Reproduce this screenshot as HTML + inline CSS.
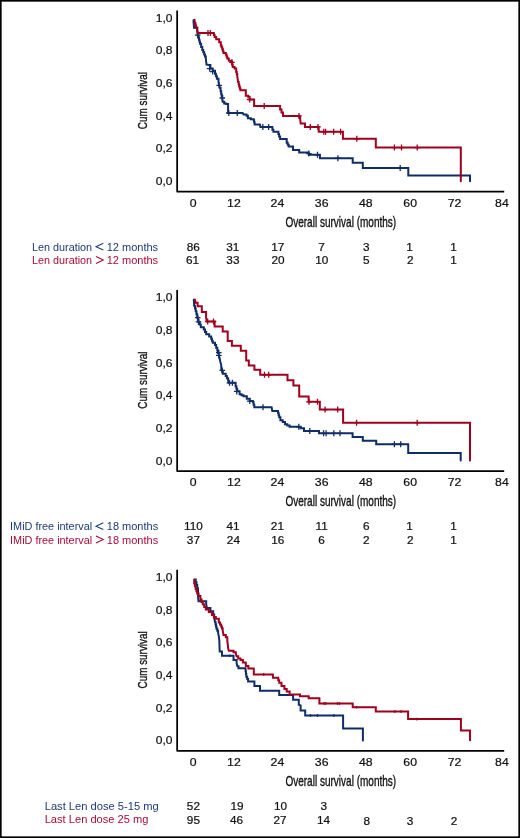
<!DOCTYPE html><html><head><meta charset="utf-8"><style>html,body{margin:0;padding:0;background:#fff;width:520px;height:838px;overflow:hidden}svg{display:block;will-change:transform}text{font-family:"Liberation Sans",sans-serif}.n{stroke:#111;stroke-width:0.22px}</style></head><body>
<svg width="520" height="838" viewBox="0 0 520 838">
<rect x="0" y="0" width="520" height="838" fill="#fff"/>
<g transform="translate(0,0)">
<path d="M177.15,10.5 V191.55 H504.2" fill="none" stroke="#000" stroke-width="1.75" stroke-linejoin="round" stroke-linecap="butt"/>
<text transform="translate(172.5,21.80) scale(1.04,1)" font-size="11.6" text-anchor="end" fill="#111" class="n">1,0</text>
<text transform="translate(172.5,54.45) scale(1.04,1)" font-size="11.6" text-anchor="end" fill="#111" class="n">0,8</text>
<text transform="translate(172.5,87.10) scale(1.04,1)" font-size="11.6" text-anchor="end" fill="#111" class="n">0,6</text>
<text transform="translate(172.5,119.75) scale(1.04,1)" font-size="11.6" text-anchor="end" fill="#111" class="n">0,4</text>
<text transform="translate(172.5,152.40) scale(1.04,1)" font-size="11.6" text-anchor="end" fill="#111" class="n">0,2</text>
<text transform="translate(172.5,185.05) scale(1.04,1)" font-size="11.6" text-anchor="end" fill="#111" class="n">0,0</text>
<text transform="translate(193.2,206.8) scale(1.06,1)" font-size="11.6" text-anchor="middle" fill="#111" class="n">0</text>
<text transform="translate(233.9,206.8) scale(1.06,1)" font-size="11.6" text-anchor="middle" fill="#111" class="n">12</text>
<text transform="translate(277.4,206.8) scale(1.06,1)" font-size="11.6" text-anchor="middle" fill="#111" class="n">24</text>
<text transform="translate(321.7,206.8) scale(1.06,1)" font-size="11.6" text-anchor="middle" fill="#111" class="n">36</text>
<text transform="translate(365.8,206.8) scale(1.06,1)" font-size="11.6" text-anchor="middle" fill="#111" class="n">48</text>
<text transform="translate(410.2,206.8) scale(1.06,1)" font-size="11.6" text-anchor="middle" fill="#111" class="n">60</text>
<text transform="translate(454.6,206.8) scale(1.06,1)" font-size="11.6" text-anchor="middle" fill="#111" class="n">72</text>
<text transform="translate(501.9,206.8) scale(1.06,1)" font-size="11.6" text-anchor="middle" fill="#111" class="n">84</text>
<text transform="translate(285.4,226.6) scale(0.706,1)" x="0" y="0" font-size="14.2" fill="#111" stroke="#111" stroke-width="0.35">Overall survival (months)</text>
<text transform="translate(147.0,129.2) rotate(-90) scale(0.74,1)" x="0" y="0" font-size="13.4" fill="#111" stroke="#111" stroke-width="0.35">Cum survival</text>
<text x="32.0" y="250.5" font-size="11" fill="#1B3A78" textLength="60.07" lengthAdjust="spacingAndGlyphs">Len duration</text>
<text x="106.7" y="250.5" font-size="11" fill="#1B3A78">12 months</text>
<text x="32.0" y="264.2" font-size="11" fill="#A80C35" textLength="60.07" lengthAdjust="spacingAndGlyphs">Len duration</text>
<text x="106.7" y="264.2" font-size="11" fill="#A80C35">12 months</text>
<path d="M103.3,243.3 L96,246.7 L103.3,250.1" fill="none" stroke="#1B3A78" stroke-width="1.05"/>
<path d="M96,256.5 L103.3,260.0 L96,263.5" fill="none" stroke="#A80C35" stroke-width="1.05"/>
<text transform="translate(193.3,250.7) scale(1.07,1)" font-size="11" text-anchor="middle" fill="#111" class="n">86</text>
<text transform="translate(232.8,250.7) scale(1.07,1)" font-size="11" text-anchor="middle" fill="#111" class="n">31</text>
<text transform="translate(277.8,250.7) scale(1.07,1)" font-size="11" text-anchor="middle" fill="#111" class="n">17</text>
<text transform="translate(321.6,250.7) scale(1.07,1)" font-size="11" text-anchor="middle" fill="#111" class="n">7</text>
<text transform="translate(366.2,250.7) scale(1.07,1)" font-size="11" text-anchor="middle" fill="#111" class="n">3</text>
<text transform="translate(409.4,250.7) scale(1.07,1)" font-size="11" text-anchor="middle" fill="#111" class="n">1</text>
<text transform="translate(453.4,250.7) scale(1.07,1)" font-size="11" text-anchor="middle" fill="#111" class="n">1</text>
<text transform="translate(192.6,264.2) scale(1.07,1)" font-size="11" text-anchor="middle" fill="#111" class="n">61</text>
<text transform="translate(232.9,264.2) scale(1.07,1)" font-size="11" text-anchor="middle" fill="#111" class="n">33</text>
<text transform="translate(278.1,264.2) scale(1.07,1)" font-size="11" text-anchor="middle" fill="#111" class="n">20</text>
<text transform="translate(321.8,264.2) scale(1.07,1)" font-size="11" text-anchor="middle" fill="#111" class="n">10</text>
<text transform="translate(366.2,264.2) scale(1.07,1)" font-size="11" text-anchor="middle" fill="#111" class="n">5</text>
<text transform="translate(410.2,264.2) scale(1.07,1)" font-size="11" text-anchor="middle" fill="#111" class="n">2</text>
<text transform="translate(453.4,264.2) scale(1.07,1)" font-size="11" text-anchor="middle" fill="#111" class="n">1</text>
</g>
<g transform="translate(0,279.5)">
<path d="M177.15,10.5 V191.55 H504.2" fill="none" stroke="#000" stroke-width="1.75" stroke-linejoin="round" stroke-linecap="butt"/>
<text transform="translate(172.5,21.80) scale(1.04,1)" font-size="11.6" text-anchor="end" fill="#111" class="n">1,0</text>
<text transform="translate(172.5,54.45) scale(1.04,1)" font-size="11.6" text-anchor="end" fill="#111" class="n">0,8</text>
<text transform="translate(172.5,87.10) scale(1.04,1)" font-size="11.6" text-anchor="end" fill="#111" class="n">0,6</text>
<text transform="translate(172.5,119.75) scale(1.04,1)" font-size="11.6" text-anchor="end" fill="#111" class="n">0,4</text>
<text transform="translate(172.5,152.40) scale(1.04,1)" font-size="11.6" text-anchor="end" fill="#111" class="n">0,2</text>
<text transform="translate(172.5,185.05) scale(1.04,1)" font-size="11.6" text-anchor="end" fill="#111" class="n">0,0</text>
<text transform="translate(193.2,206.8) scale(1.06,1)" font-size="11.6" text-anchor="middle" fill="#111" class="n">0</text>
<text transform="translate(233.9,206.8) scale(1.06,1)" font-size="11.6" text-anchor="middle" fill="#111" class="n">12</text>
<text transform="translate(277.4,206.8) scale(1.06,1)" font-size="11.6" text-anchor="middle" fill="#111" class="n">24</text>
<text transform="translate(321.7,206.8) scale(1.06,1)" font-size="11.6" text-anchor="middle" fill="#111" class="n">36</text>
<text transform="translate(365.8,206.8) scale(1.06,1)" font-size="11.6" text-anchor="middle" fill="#111" class="n">48</text>
<text transform="translate(410.2,206.8) scale(1.06,1)" font-size="11.6" text-anchor="middle" fill="#111" class="n">60</text>
<text transform="translate(454.6,206.8) scale(1.06,1)" font-size="11.6" text-anchor="middle" fill="#111" class="n">72</text>
<text transform="translate(501.9,206.8) scale(1.06,1)" font-size="11.6" text-anchor="middle" fill="#111" class="n">84</text>
<text transform="translate(285.4,226.6) scale(0.706,1)" x="0" y="0" font-size="14.2" fill="#111" stroke="#111" stroke-width="0.35">Overall survival (months)</text>
<text transform="translate(147.0,129.2) rotate(-90) scale(0.74,1)" x="0" y="0" font-size="13.4" fill="#111" stroke="#111" stroke-width="0.35">Cum survival</text>
<text x="10.1" y="250.5" font-size="11" fill="#1B3A78" textLength="82.06" lengthAdjust="spacingAndGlyphs">IMiD free interval</text>
<text x="106.8" y="250.5" font-size="11" fill="#1B3A78">18 months</text>
<text x="10.1" y="264.2" font-size="11" fill="#A80C35" textLength="82.06" lengthAdjust="spacingAndGlyphs">IMiD free interval</text>
<text x="106.8" y="264.2" font-size="11" fill="#A80C35">18 months</text>
<path d="M103.3,243.3 L96,246.7 L103.3,250.1" fill="none" stroke="#1B3A78" stroke-width="1.05"/>
<path d="M96,256.5 L103.3,260.0 L96,263.5" fill="none" stroke="#A80C35" stroke-width="1.05"/>
<text transform="translate(193.4,250.7) scale(1.07,1)" font-size="11" text-anchor="middle" fill="#111" class="n">110</text>
<text transform="translate(233.0,250.7) scale(1.07,1)" font-size="11" text-anchor="middle" fill="#111" class="n">41</text>
<text transform="translate(277.4,250.7) scale(1.07,1)" font-size="11" text-anchor="middle" fill="#111" class="n">21</text>
<text transform="translate(321.6,250.7) scale(1.07,1)" font-size="11" text-anchor="middle" fill="#111" class="n">11</text>
<text transform="translate(366.2,250.7) scale(1.07,1)" font-size="11" text-anchor="middle" fill="#111" class="n">6</text>
<text transform="translate(409.4,250.7) scale(1.07,1)" font-size="11" text-anchor="middle" fill="#111" class="n">1</text>
<text transform="translate(453.4,250.7) scale(1.07,1)" font-size="11" text-anchor="middle" fill="#111" class="n">1</text>
<text transform="translate(193.4,264.2) scale(1.07,1)" font-size="11" text-anchor="middle" fill="#111" class="n">37</text>
<text transform="translate(233.4,264.2) scale(1.07,1)" font-size="11" text-anchor="middle" fill="#111" class="n">24</text>
<text transform="translate(277.8,264.2) scale(1.07,1)" font-size="11" text-anchor="middle" fill="#111" class="n">16</text>
<text transform="translate(321.5,264.2) scale(1.07,1)" font-size="11" text-anchor="middle" fill="#111" class="n">6</text>
<text transform="translate(366.2,264.2) scale(1.07,1)" font-size="11" text-anchor="middle" fill="#111" class="n">2</text>
<text transform="translate(410.2,264.2) scale(1.07,1)" font-size="11" text-anchor="middle" fill="#111" class="n">2</text>
<text transform="translate(453.4,264.2) scale(1.07,1)" font-size="11" text-anchor="middle" fill="#111" class="n">1</text>
</g>
<g transform="translate(0,559.3)">
<path d="M177.15,10.5 V191.55 H504.2" fill="none" stroke="#000" stroke-width="1.75" stroke-linejoin="round" stroke-linecap="butt"/>
<text transform="translate(172.5,21.80) scale(1.04,1)" font-size="11.6" text-anchor="end" fill="#111" class="n">1,0</text>
<text transform="translate(172.5,54.45) scale(1.04,1)" font-size="11.6" text-anchor="end" fill="#111" class="n">0,8</text>
<text transform="translate(172.5,87.10) scale(1.04,1)" font-size="11.6" text-anchor="end" fill="#111" class="n">0,6</text>
<text transform="translate(172.5,119.75) scale(1.04,1)" font-size="11.6" text-anchor="end" fill="#111" class="n">0,4</text>
<text transform="translate(172.5,152.40) scale(1.04,1)" font-size="11.6" text-anchor="end" fill="#111" class="n">0,2</text>
<text transform="translate(172.5,185.05) scale(1.04,1)" font-size="11.6" text-anchor="end" fill="#111" class="n">0,0</text>
<text transform="translate(193.2,206.8) scale(1.06,1)" font-size="11.6" text-anchor="middle" fill="#111" class="n">0</text>
<text transform="translate(233.9,206.8) scale(1.06,1)" font-size="11.6" text-anchor="middle" fill="#111" class="n">12</text>
<text transform="translate(277.4,206.8) scale(1.06,1)" font-size="11.6" text-anchor="middle" fill="#111" class="n">24</text>
<text transform="translate(321.7,206.8) scale(1.06,1)" font-size="11.6" text-anchor="middle" fill="#111" class="n">36</text>
<text transform="translate(365.8,206.8) scale(1.06,1)" font-size="11.6" text-anchor="middle" fill="#111" class="n">48</text>
<text transform="translate(410.2,206.8) scale(1.06,1)" font-size="11.6" text-anchor="middle" fill="#111" class="n">60</text>
<text transform="translate(454.6,206.8) scale(1.06,1)" font-size="11.6" text-anchor="middle" fill="#111" class="n">72</text>
<text transform="translate(501.9,206.8) scale(1.06,1)" font-size="11.6" text-anchor="middle" fill="#111" class="n">84</text>
<text transform="translate(285.4,226.6) scale(0.706,1)" x="0" y="0" font-size="14.2" fill="#111" stroke="#111" stroke-width="0.35">Overall survival (months)</text>
<text transform="translate(147.0,129.2) rotate(-90) scale(0.74,1)" x="0" y="0" font-size="13.4" fill="#111" stroke="#111" stroke-width="0.35">Cum survival</text>
<text x="44.7" y="250.5" font-size="11" fill="#1B3A78" textLength="114.0" lengthAdjust="spacingAndGlyphs">Last Len dose 5-15 mg</text>
<text x="44.7" y="264.2" font-size="11" fill="#A80C35" textLength="103.8" lengthAdjust="spacingAndGlyphs">Last Len dose 25 mg</text>
<text transform="translate(193.4,250.7) scale(1.07,1)" font-size="11" text-anchor="middle" fill="#111" class="n">52</text>
<text transform="translate(237.0,250.7) scale(1.07,1)" font-size="11" text-anchor="middle" fill="#111" class="n">19</text>
<text transform="translate(280.5,250.7) scale(1.07,1)" font-size="11" text-anchor="middle" fill="#111" class="n">10</text>
<text transform="translate(323.7,250.7) scale(1.07,1)" font-size="11" text-anchor="middle" fill="#111" class="n">3</text>
<text transform="translate(193.4,264.2) scale(1.07,1)" font-size="11" text-anchor="middle" fill="#111" class="n">95</text>
<text transform="translate(236.5,264.2) scale(1.07,1)" font-size="11" text-anchor="middle" fill="#111" class="n">46</text>
<text transform="translate(280.0,264.2) scale(1.07,1)" font-size="11" text-anchor="middle" fill="#111" class="n">27</text>
<text transform="translate(323.6,264.2) scale(1.07,1)" font-size="11" text-anchor="middle" fill="#111" class="n">14</text>
<text transform="translate(366.8,265.6) scale(1.07,1)" font-size="11" text-anchor="middle" fill="#111" class="n">8</text>
<text transform="translate(410.0,265.6) scale(1.07,1)" font-size="11" text-anchor="middle" fill="#111" class="n">3</text>
<text transform="translate(454.0,265.6) scale(1.07,1)" font-size="11" text-anchor="middle" fill="#111" class="n">2</text>
</g>
<path d="M193.80,19.90 L193.50,20.90 L194.00,27.80 L197.20,27.80 L197.20,30.20 L197.70,35.20 L198.35,35.20 L198.35,37.50 L199.00,37.50 L199.00,39.80 L199.50,39.80 L199.50,41.80 L200.00,41.80 L200.00,43.80 L201.15,43.80 L201.15,46.90 L202.30,46.90 L202.30,50.00 L203.25,50.00 L203.25,52.30 L204.20,52.30 L204.20,54.60 L205.00,54.60 L205.00,56.55 L205.80,56.55 L205.80,58.50 L206.50,64.60 L209.20,65.00 L210.40,65.00 L210.40,68.50 L212.70,68.50 L212.70,70.80 L215.00,70.80 L215.00,73.80 L215.95,73.80 L215.95,76.30 L216.90,76.30 L216.90,78.80 L218.50,78.80 L218.50,81.90 L219.20,85.40 L220.00,88.10 L220.60,88.10 L220.60,91.15 L221.20,91.15 L221.20,94.20 L221.75,94.20 L221.75,96.10 L222.30,96.10 L222.30,98.00 L222.70,101.80 L224.20,101.80 L224.20,103.40 L226.15,103.40 L226.15,103.95 L228.10,103.95 L228.10,104.50 L228.10,113.00 L242.70,113.00 L243.50,114.50 L246.50,114.50 L246.50,115.70 L247.90,115.70 L247.90,118.30 L250.80,118.30 L250.80,119.25 L253.70,119.25 L253.70,120.20 L254.15,120.20 L254.15,122.35 L254.60,122.35 L254.60,124.50 L259.90,124.50 L260.40,126.90 L271.00,126.90 L272.40,126.90 L272.40,129.80 L273.40,129.80 L273.40,131.70 L277.70,131.70 L278.40,131.70 L278.40,134.10 L279.10,134.10 L279.10,136.50 L280.10,136.50 L280.10,139.10 L284.80,139.10 L286.70,139.10 L286.70,142.80 L287.70,142.80 L287.70,144.70 L288.70,144.70 L288.70,146.60 L293.00,146.60 L293.00,150.00 L299.20,150.00 L299.20,152.40 L308.80,152.40 L308.80,154.80 L319.90,154.80 L319.90,158.20 L352.70,158.20 L352.70,162.80 L362.80,162.80 L362.80,168.00 L408.30,168.00 L408.30,175.40 L470.00,175.40 L470.00,181.30" fill="none" stroke="#0F2D66" stroke-width="2" stroke-linejoin="miter" stroke-linecap="round"/>
<path d="M206.80,68.60H212.40M209.60,65.60V71.60 M209.90,71.60H215.50M212.70,68.60V74.60 M194.90,35.20H200.50M197.70,32.20V38.20 M216.40,85.40H222.00M219.20,82.40V88.40 M219.50,98.00H225.10M222.30,95.00V101.00 M226.00,113.00H231.60M228.80,110.00V116.00 M234.50,113.00H240.10M237.30,110.00V116.00 M260.00,126.90H265.60M262.80,123.90V129.90 M265.80,126.90H271.40M268.60,123.90V129.90 M306.00,153.60H311.60M308.80,150.60V156.60 M314.70,154.80H320.30M317.50,151.80V157.80 M335.10,158.20H340.70M337.90,155.20V161.20 M397.40,168.00H403.00M400.20,165.00V171.00" fill="none" stroke="#0F2D66" stroke-width="1.3"/>
<path d="M194.50,19.70 L194.90,23.20 L195.50,23.20 L195.50,25.50 L196.10,25.50 L196.10,27.80 L197.20,27.80 L197.20,30.60 L197.90,32.90 L213.10,32.90 L213.85,32.90 L213.85,34.90 L214.60,34.90 L214.60,36.90 L216.20,36.90 L216.20,39.20 L219.20,39.20 L219.20,42.30 L220.80,42.30 L220.80,45.40 L221.55,45.40 L221.55,47.30 L222.30,47.30 L222.30,49.20 L222.90,49.20 L222.90,51.15 L223.50,51.15 L223.50,53.10 L225.80,53.10 L225.80,54.60 L226.55,54.60 L226.55,56.55 L227.30,56.55 L227.30,58.50 L228.80,58.50 L228.80,60.80 L231.50,60.80 L231.50,62.30 L232.10,62.30 L232.10,64.60 L232.70,64.60 L232.70,66.90 L234.60,66.90 L234.60,68.60 L236.20,68.60 L236.20,71.90 L236.75,71.90 L236.75,74.20 L237.30,74.20 L237.30,76.50 L238.10,81.90 L238.65,81.90 L238.65,84.20 L239.20,84.20 L239.20,86.50 L239.80,86.50 L239.80,88.40 L240.40,88.40 L240.40,90.30 L245.80,90.30 L245.80,95.70 L248.10,95.70 L248.10,96.80 L249.60,96.80 L249.60,99.50 L254.10,99.50 L254.10,106.00 L279.10,106.00 L280.10,106.00 L280.10,109.60 L281.50,109.60 L281.50,112.50 L283.00,112.50 L283.00,115.90 L299.20,115.90 L299.70,115.90 L299.70,117.80 L300.20,117.80 L300.20,119.70 L300.70,123.50 L305.00,123.50 L305.00,126.90 L318.70,126.90 L318.70,131.70 L342.90,131.70 L342.90,138.80 L375.80,138.80 L375.80,147.60 L460.80,147.60 L460.80,181.30" fill="none" stroke="#9E001E" stroke-width="2" stroke-linejoin="miter" stroke-linecap="round"/>
<path d="M229.10,62.30H234.70M231.90,59.30V65.30 M246.80,99.50H252.40M249.60,96.50V102.50 M205.20,32.90H210.80M208.00,29.90V35.90 M207.50,32.90H213.10M210.30,29.90V35.90 M261.40,106.00H267.00M264.20,103.00V109.00 M296.20,115.90H301.80M299.00,112.90V118.90 M307.50,126.90H313.10M310.30,123.90V129.90 M315.20,126.90H320.80M318.00,123.90V129.90 M321.00,131.70H326.60M323.80,128.70V134.70 M322.80,131.70H328.40M325.60,128.70V134.70 M330.90,131.70H336.50M333.70,128.70V134.70 M337.80,131.70H343.40M340.60,128.70V134.70 M354.00,138.80H359.60M356.80,135.80V141.80 M391.60,147.60H397.20M394.40,144.60V150.60 M398.70,147.60H404.30M401.50,144.60V150.60 M414.40,147.60H420.00M417.20,144.60V150.60" fill="none" stroke="#9E001E" stroke-width="1.3"/>
<path d="M193.80,299.80 L194.20,305.80 L194.95,305.80 L194.95,308.50 L195.70,308.50 L195.70,311.20 L196.45,311.20 L196.45,314.30 L197.20,314.30 L197.20,317.40 L197.85,317.40 L197.85,319.65 L198.50,319.65 L198.50,321.90 L199.65,321.90 L199.65,324.60 L200.80,324.60 L200.80,327.30 L203.80,327.30 L203.80,329.60 L205.00,329.60 L205.00,331.90 L206.20,331.90 L206.20,334.20 L209.20,334.20 L209.20,336.50 L211.20,336.50 L211.20,338.80 L211.95,338.80 L211.95,340.75 L212.70,340.75 L212.70,342.70 L215.00,342.70 L215.00,345.00 L216.15,345.00 L216.15,347.70 L217.30,347.70 L217.30,350.40 L218.05,350.40 L218.05,352.90 L218.80,352.90 L218.80,355.40 L219.60,358.10 L220.40,361.90 L221.20,365.00 L221.40,369.80 L222.10,369.80 L222.10,371.75 L222.80,371.75 L222.80,373.70 L225.70,373.70 L225.70,376.10 L226.90,376.10 L226.90,378.25 L228.10,378.25 L228.10,380.40 L228.60,382.80 L234.30,382.80 L235.60,382.80 L235.60,386.20 L236.40,386.20 L236.40,388.70 L237.20,388.70 L237.20,391.20 L239.60,391.20 L239.60,394.30 L241.55,394.30 L241.55,395.30 L243.50,395.30 L243.50,396.30 L246.80,396.30 L246.80,398.70 L249.70,398.70 L249.70,401.00 L252.90,401.00 L252.90,402.30 L253.60,402.30 L253.60,404.80 L254.30,404.80 L254.30,407.30 L271.60,407.30 L272.30,411.00 L277.50,411.00 L278.07,411.00 L278.07,413.10 L278.63,413.10 L278.63,415.20 L279.20,415.20 L279.20,417.30 L280.40,417.30 L280.40,420.20 L282.70,420.20 L282.70,421.90 L285.00,421.90 L285.00,424.20 L287.30,424.20 L287.30,425.50 L289.60,425.50 L289.60,426.80 L299.40,426.80 L300.60,426.80 L300.60,428.30 L304.00,428.30 L304.00,430.90 L319.00,430.90 L319.00,433.30 L352.60,433.30 L352.60,436.90 L362.80,436.90 L362.80,440.80 L376.20,440.80 L376.20,444.20 L408.20,444.20 L408.20,453.00 L460.70,453.00 L460.70,460.50" fill="none" stroke="#0F2D66" stroke-width="2" stroke-linejoin="miter" stroke-linecap="round"/>
<path d="M194.90,317.70H200.50M197.70,314.70V320.70 M195.70,321.90H201.30M198.50,318.90V324.90 M216.00,352.70H221.60M218.80,349.70V355.70 M216.00,355.40H221.60M218.80,352.40V358.40 M219.50,370.40H225.10M222.30,367.40V373.40 M226.70,382.80H232.30M229.50,379.80V385.80 M229.60,382.80H235.20M232.40,379.80V385.80 M233.95,391.40H239.55M236.75,388.40V394.40 M246.90,401.10H252.50M249.70,398.10V404.10 M260.20,407.30H265.80M263.00,404.30V410.30 M296.00,426.80H301.60M298.80,423.80V429.80 M307.00,430.90H312.60M309.80,427.90V433.90 M320.80,433.30H326.40M323.60,430.30V436.30 M323.30,433.30H328.90M326.10,430.30V436.30 M331.00,433.30H336.60M333.80,430.30V436.30 M337.20,433.30H342.80M340.00,430.30V436.30 M391.60,444.20H397.20M394.40,441.20V447.20 M397.90,444.20H403.50M400.70,441.20V447.20" fill="none" stroke="#0F2D66" stroke-width="1.3"/>
<path d="M194.90,299.40 L195.70,302.80 L197.60,302.80 L197.60,306.20 L201.80,306.20 L201.80,312.00 L206.10,312.00 L206.10,318.00 L206.90,321.50 L214.60,321.50 L214.60,326.50 L222.70,326.50 L222.70,331.50 L227.70,331.50 L227.70,341.00 L231.90,341.00 L231.90,345.80 L240.80,345.80 L240.80,350.80 L246.20,350.80 L246.20,360.40 L248.80,360.40 L248.80,365.40 L254.40,365.40 L254.40,369.80 L260.20,369.80 L260.20,374.80 L287.50,374.80 L287.50,380.30 L293.40,380.30 L293.40,385.60 L299.20,385.60 L299.20,396.60 L308.60,396.60 L308.60,401.80 L319.80,401.80 L319.80,409.60 L343.10,409.60 L343.10,422.70 L470.00,422.70 L470.00,460.50" fill="none" stroke="#9E001E" stroke-width="2" stroke-linejoin="miter" stroke-linecap="round"/>
<path d="M204.90,321.50H210.50M207.70,318.50V324.50 M210.70,321.50H216.30M213.50,318.50V324.50 M261.70,374.80H267.30M264.50,371.80V377.80 M265.90,374.80H271.50M268.70,371.80V377.80 M306.20,401.80H311.80M309.00,398.80V404.80 M314.70,401.80H320.30M317.50,398.80V404.80 M322.30,409.60H327.90M325.10,406.60V412.60 M334.90,409.60H340.50M337.70,406.60V412.60 M353.80,422.70H359.40M356.60,419.70V425.70 M414.40,422.70H420.00M417.20,419.70V425.70" fill="none" stroke="#9E001E" stroke-width="1.3"/>
<path d="M194.90,579.40 L195.70,579.40 L195.70,582.25 L196.50,582.25 L196.50,585.10 L197.25,585.10 L197.25,588.15 L198.00,588.15 L198.00,591.20 L198.10,597.30 L198.50,601.20 L203.50,601.20 L206.20,601.20 L206.20,604.20 L206.90,608.10 L210.40,608.10 L210.40,611.20 L213.20,611.20 L213.20,614.50 L214.20,614.50 L214.20,618.10 L215.00,622.00 L215.50,622.00 L215.50,624.27 L216.00,624.27 L216.00,626.53 L216.50,626.53 L216.50,628.80 L217.30,628.80 L217.30,630.75 L218.10,630.75 L218.10,632.70 L218.80,636.50 L219.30,640.20 L219.70,651.50 L222.00,651.50 L222.00,655.80 L233.50,655.80 L233.50,660.00 L236.60,660.00 L236.60,663.10 L237.40,666.20 L238.50,666.20 L238.50,668.30 L245.20,668.30 L245.57,668.30 L245.57,671.13 L245.93,671.13 L245.93,673.97 L246.30,673.97 L246.30,676.80 L247.20,676.80 L247.20,679.10 L248.10,679.10 L248.10,681.40 L254.40,681.40 L254.40,685.90 L260.00,685.90 L260.00,690.70 L279.20,690.70 L279.20,695.10 L293.10,695.10 L293.10,699.80 L298.80,699.80 L298.80,704.80 L300.60,705.40 L300.60,710.60 L305.20,710.60 L305.20,715.50 L343.10,715.50 L343.10,728.50 L362.90,728.50 L362.90,740.50" fill="none" stroke="#0F2D66" stroke-width="2" stroke-linejoin="miter" stroke-linecap="round"/>
<path d="M228.70,655.80H230.70M229.70,654.50V657.10 M309.40,715.50H311.40M310.40,714.20V716.80 M316.50,715.50H318.50M317.50,714.20V716.80 M332.80,715.50H334.80M333.80,714.20V716.80" fill="none" stroke="#0F2D66" stroke-width="1.3"/>
<path d="M194.20,579.40 L194.20,583.50 L194.95,583.50 L194.95,586.20 L195.70,586.20 L195.70,588.90 L196.45,588.90 L196.45,591.20 L197.20,591.20 L197.20,593.50 L198.60,593.50 L198.60,596.00 L200.40,596.00 L200.40,599.60 L201.55,599.60 L201.55,601.90 L202.70,601.90 L202.70,604.20 L204.25,604.20 L204.25,606.90 L205.80,606.90 L205.80,609.60 L208.80,609.60 L208.80,611.90 L211.90,611.90 L211.90,615.00 L213.85,615.00 L213.85,616.90 L215.80,616.90 L215.80,618.80 L218.80,618.80 L218.80,622.50 L220.00,622.50 L220.00,624.50 L221.20,624.50 L221.20,626.50 L221.95,626.50 L221.95,628.45 L222.70,628.45 L222.70,630.40 L223.50,635.00 L225.80,635.00 L225.80,637.30 L227.30,637.30 L227.30,640.40 L228.20,648.50 L228.90,650.80 L232.00,650.80 L233.50,650.80 L233.50,652.30 L235.80,652.30 L235.80,653.50 L236.60,656.20 L238.20,656.20 L238.20,658.50 L240.50,658.50 L240.50,660.00 L242.90,660.00 L242.90,662.50 L245.80,662.50 L245.80,666.00 L248.40,666.00 L248.40,668.50 L253.80,668.50 L253.80,674.40 L271.20,674.40 L272.90,674.40 L272.90,677.70 L277.30,677.70 L278.25,677.70 L278.25,680.25 L279.20,680.25 L279.20,682.80 L281.50,682.80 L281.50,686.10 L284.40,686.10 L284.40,689.00 L286.70,689.00 L286.70,691.60 L289.60,691.60 L289.60,694.50 L300.00,694.50 L300.00,696.20 L308.70,696.20 L308.70,698.30 L319.40,698.30 L319.40,703.50 L352.70,703.50 L352.70,707.30 L375.80,707.30 L375.80,711.50 L408.10,711.50 L408.10,719.10 L460.90,719.10 L460.90,730.50 L470.00,730.50 L470.00,740.30" fill="none" stroke="#9E001E" stroke-width="2" stroke-linejoin="miter" stroke-linecap="round"/>
<path d="M262.70,674.40H264.70M263.70,673.10V675.70 M323.00,703.50H325.00M324.00,702.20V704.80 M324.80,703.50H326.80M325.80,702.20V704.80 M336.50,703.50H338.50M337.50,702.20V704.80 M338.50,703.50H340.50M339.50,702.20V704.80 M355.50,707.30H357.50M356.50,706.00V708.60 M393.80,711.50H395.80M394.80,710.20V712.80 M400.10,711.50H402.10M401.10,710.20V712.80 M416.00,719.10H418.00M417.00,717.80V720.40" fill="none" stroke="#9E001E" stroke-width="1.3"/>
<rect x="0" y="0" width="520" height="838" fill="none" stroke="#000" stroke-width="3.3"/>
</svg></body></html>
